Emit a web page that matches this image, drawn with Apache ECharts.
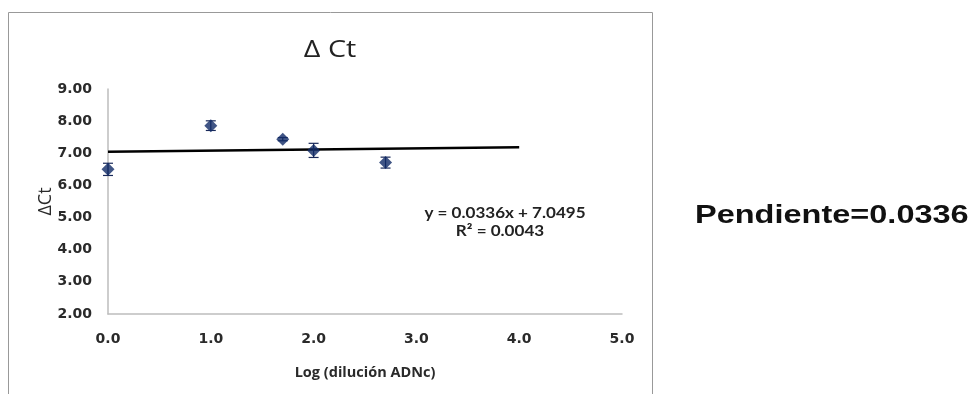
<!DOCTYPE html>
<html><head><meta charset="utf-8">
<script src="https://cdn.jsdelivr.net/npm/echarts@6/dist/echarts.min.js"></script>
<style>html,body{margin:0;padding:0;background:#fff}#c{width:975px;height:394px}</style>
</head><body><div id="c"></div>
<script>
const xValues = [0.0, 1.0, 1.7, 2.0, 2.7];
const yValues = [6.50, 7.86, 7.44, 7.09, 6.71];
const yErrors = [0.19, 0.15, 0.05, 0.22, 0.17];
const slope = 0.0336, intercept = 7.0495;
const trendX = [0, 4];
const titleText = 'Δ Ct';
const xAxisTitle = 'Log (dilución ADNc)';
const yAxisTitle = 'ΔCt';
const equationText = 'y = 0.0336x + 7.0495';
const r2Text = 'R² = 0.0043';
const sideText = 'Pendiente=0.0336';

const chart = echarts.init(document.getElementById('c'));
const pts = xValues.map((x, i) => [x, yValues[i]]);
const errData = xValues.map((x, i) => [x, yValues[i] - yErrors[i], yValues[i] + yErrors[i]]);
const trend = trendX.map(x => [x, slope * x + intercept]);
const TICKFONT = '"DejaVu Sans"';

chart.setOption({
  animation: false,
  grid: {left: 108, right: 353, top: 89, bottom: 80},
  xAxis: {type: 'value', min: 0, max: 5, interval: 1,
    name: xAxisTitle, nameLocation: 'middle', nameGap: 51,
    nameTextStyle: {fontFamily: 'Open Sans', fontSize: 14.5, fontWeight: 'bold', color: '#2a2a2a'},
    axisLine: {lineStyle: {color: '#bdbdbd', width: 1.5}}, axisTick: {show: false}, splitLine: {show: false},
    axisLabel: {margin: 18, fontFamily: TICKFONT, fontSize: 14, fontWeight: 'bold', color: '#2a2a2a',
      formatter: v => v.toFixed(1)}},
  yAxis: {type: 'value', min: 2, max: 9, interval: 1,
    name: yAxisTitle, nameLocation: 'middle', nameGap: 53, nameRotate: 90, nameMoveOverlap: false,
    nameTextStyle: {fontFamily: 'Open Sans', fontSize: 18, fontWeight: 'normal', color: '#2a2a2a'},
    axisLine: {show: true, lineStyle: {color: '#bdbdbd', width: 1.5}}, axisTick: {show: false}, splitLine: {show: false},
    axisLabel: {margin: 16, fontFamily: TICKFONT, fontSize: 14, fontWeight: 'bold', color: '#2a2a2a',
      formatter: v => v.toFixed(2)}},
  graphic: [
    {type: 'rect', shape: {x: 8.5, y: 12.5, width: 644, height: 400}, style: {fill: 'none', stroke: '#999', lineWidth: 1}, z: -1},
    {type: 'text', x: 330, y: 50, scaleX: 1.25,
      style: {text: titleText, font: '23px "Open Sans"', fill: '#222', textAlign: 'center', textVerticalAlign: 'middle'}},
    {type: 'text', x: 505, y: 213, scaleX: 1.1,
      style: {text: equationText, font: 'bold 15.5px Lato', fill: '#222', textAlign: 'center', textVerticalAlign: 'middle'}},
    {type: 'text', x: 500, y: 231, scaleX: 1.1,
      style: {text: r2Text, font: 'bold 15.5px Lato', fill: '#222', textAlign: 'center', textVerticalAlign: 'middle'}},
    {type: 'text', x: 695, y: 216, scaleX: 1.3,
      style: {text: sideText, font: 'bold 25px "Liberation Sans", Arial', fill: '#111', textAlign: 'left', textVerticalAlign: 'middle'}}
  ],
  series: [
    {type: 'line', data: trend, showSymbol: false, lineStyle: {color: '#000', width: 2.5}, z: 2},
    {type: 'custom', data: errData, z: 3,
      renderItem: (params, api) => {
        const x = api.value(0);
        const lo = api.coord([x, api.value(1)]);
        const hi = api.coord([x, api.value(2)]);
        const w = 5;
        const st = {stroke: '#1a2a5a', lineWidth: 1.2};
        return {type: 'group', children: [
          {type: 'line', shape: {x1: lo[0], y1: lo[1], x2: hi[0], y2: hi[1]}, style: st},
          {type: 'line', shape: {x1: lo[0]-w, y1: lo[1], x2: lo[0]+w, y2: lo[1]}, style: st},
          {type: 'line', shape: {x1: hi[0]-w, y1: hi[1], x2: hi[0]+w, y2: hi[1]}, style: st}
        ]};
      }},
    {type: 'scatter', data: pts, symbol: 'diamond', symbolSize: [13, 13], itemStyle: {color: '#102a66'}, z: 4}
  ]
});
</script></body></html>
